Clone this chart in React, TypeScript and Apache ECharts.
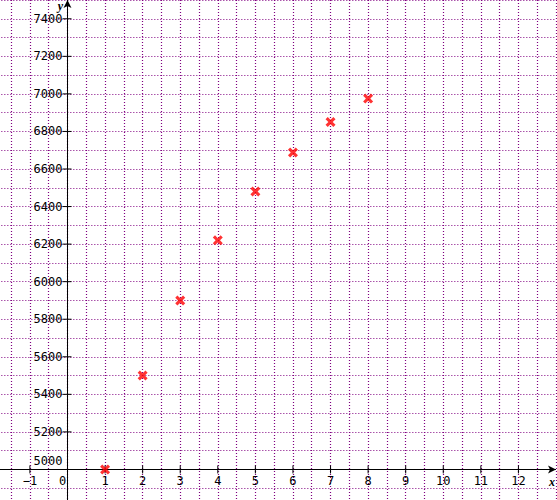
import React, { useEffect, useRef } from "react";
import * as echarts from "echarts";

const X_VALUES = [1, 2, 3, 4, 5, 6, 7, 8];
const Y_VALUES = [5000, 5500, 5900, 6220, 6480, 6688, 6850, 6975];
const X_TICKS = [-1, 0, 1, 2, 3, 4, 5, 6, 7, 8, 9, 10, 11, 12];
const Y_TICKS = [5000, 5200, 5400, 5600, 5800, 6000, 6200, 6400, 6600, 6800, 7000, 7200, 7400];
const X_MIN = -2;
const X_MAX = 13;
const Y_MIN = 4800;
const Y_MAX = 7500;
const AXIS_CROSS_X = 0;
const AXIS_CROSS_Y = 5000;

const MONO = "'DejaVu Sans Mono', monospace";
const GRID_COLOR = "#800080";
const X_SYMBOL =
  "path://M0,2.2 L2.2,0 L5,2.8 L7.8,0 L10,2.2 L7.2,5 L10,7.8 L7.8,10 L5,7.2 L2.2,10 L0,7.8 L2.8,5 Z";

export default function App() {
  const ref = useRef<HTMLDivElement>(null);
  useEffect(() => {
    if (!ref.current) return;
    const chart = echarts.init(ref.current, null, { renderer: "svg" });
    const option: any = {
      animation: false,
      backgroundColor: "#ffffff",
      grid: {
        left: -7.66,
        right: 1,
        top: 0,
        bottom: -7,
        containLabel: false,
        outerBoundsMode: "none",
      },
      xAxis: {
        type: "value",
        min: X_MIN,
        max: X_MAX,
        interval: 0.5,
        axisLine: { show: false },
        axisTick: { show: false },
        axisLabel: { show: false },
        splitLine: {
          show: true,
          lineStyle: { color: GRID_COLOR, width: 1.2, type: [1, 2] },
        },
      },
      yAxis: {
        type: "value",
        min: Y_MIN,
        max: Y_MAX,
        interval: 100,
        axisLine: { show: false },
        axisTick: { show: false },
        axisLabel: { show: false },
        splitLine: {
          show: true,
          lineStyle: { color: GRID_COLOR, width: 1.2, type: [1, 2] },
        },
      },
      series: [
        {
          type: "custom",
          clip: false,
          silent: true,
          z: 3,
          data: X_TICKS.map((x) => [x, AXIS_CROSS_Y]),
          renderItem: (params: any, api: any) => {
            const x = api.value(0);
            const p = api.coord([x, AXIS_CROSS_Y]);
            const children: any[] = [];
            if (x !== AXIS_CROSS_X) {
              children.push({
                type: "line",
                shape: { x1: p[0], y1: p[1] - 4, x2: p[0], y2: p[1] + 4 },
                style: { stroke: "#000", lineWidth: 1 },
              });
            }
            children.push({
              type: "text",
              x: x === AXIS_CROSS_X ? p[0] - 5 : p[0],
              y: p[1] + 11.5,
              style: {
                text: x < 0 ? "\u2212" + String(-x) : String(x),
                fill: "#000",
                font: `12px ${MONO}`,
                textAlign: "center",
                textVerticalAlign: "middle",
              },
            });
            if (params.dataIndex === X_TICKS.length - 1) {
              const e = api.coord([X_MAX, AXIS_CROSS_Y]);
              children.push({
                type: "text",
                x: e[0] - 4,
                y: e[1] + 13,
                style: {
                  text: "x",
                  fill: "#000",
                  font: "italic bold 12px 'Liberation Serif', serif",
                  textAlign: "center",
                  textVerticalAlign: "middle",
                },
              });
            }
            return { type: "group", children };
          },
        },
        {
          type: "custom",
          clip: false,
          silent: true,
          z: 3,
          data: Y_TICKS.map((y) => [AXIS_CROSS_X, y]),
          renderItem: (params: any, api: any) => {
            const y = api.value(1);
            const p = api.coord([AXIS_CROSS_X, y]);
            const children: any[] = [];
            if (y !== AXIS_CROSS_Y) {
              children.push({
                type: "line",
                shape: { x1: p[0] - 5, y1: p[1], x2: p[0] + 4, y2: p[1] },
                style: { stroke: "#000", lineWidth: 1 },
              });
            }
            children.push({
              type: "text",
              x: p[0] - 5,
              y: y === AXIS_CROSS_Y ? p[1] - 8 : p[1],
              style: {
                text: String(y),
                fill: "#000",
                font: `12px ${MONO}`,
                textAlign: "right",
                textVerticalAlign: "middle",
              },
            });
            if (params.dataIndex === Y_TICKS.length - 1) {
              const t = api.coord([AXIS_CROSS_X, Y_MAX]);
              children.push({
                type: "text",
                x: t[0] - 7,
                y: t[1] + 6,
                style: {
                  text: "y",
                  fill: "#000",
                  font: "italic bold 12px 'Liberation Serif', serif",
                  textAlign: "center",
                  textVerticalAlign: "middle",
                },
              });
            }
            return { type: "group", children };
          },
        },
        {
          type: "scatter",
          z: 5,
          symbol: X_SYMBOL,
          symbolSize: 10,
          itemStyle: { color: "#ff0000" },
          data: X_VALUES.map((x, i) => [x, Y_VALUES[i]]),
          markLine: {
            silent: true,
            animation: false,
            symbol: ["none", "arrow"],
            symbolSize: [6, 8],
            label: { show: false },
            lineStyle: { color: "#000", width: 1, type: "solid" },
            emphasis: { disabled: true },
            data: [{ yAxis: AXIS_CROSS_Y }, { xAxis: AXIS_CROSS_X }],
          },
        },
      ],
    };
    chart.setOption(option);
    return () => chart.dispose();
  }, []);
  return (
    <div
      ref={ref}
      style={{ position: "fixed", left: 0, top: 0, width: 557, height: 500 }}
    />
  );
}
